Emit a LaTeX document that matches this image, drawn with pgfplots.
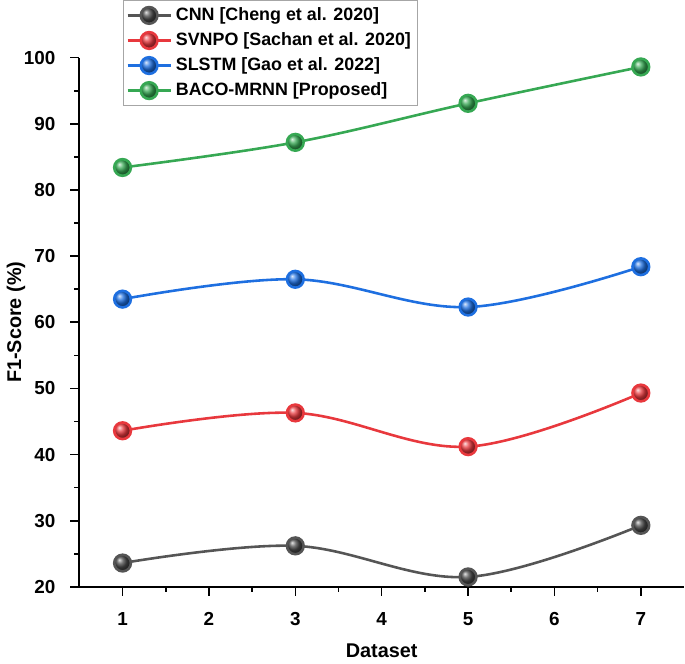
\documentclass[border=0pt]{standalone}
\usepackage{pgfplots}
\pgfplotsset{compat=1.18}
\usepackage{fontspec}
\setmainfont{Liberation Sans}
\definecolor{cnn}{HTML}{555555}
\definecolor{svn}{HTML}{E8383D}
\definecolor{sls}{HTML}{1E6FE0}
\definecolor{bac}{HTML}{36A853}
\begin{document}
\begin{tikzpicture}
\begin{axis}[
  width=304.5pt, height=266.5pt, scale only axis,
  xmin=0.5, xmax=7.5, ymin=20, ymax=100,
  xtick={1,2,3,4,5,6,7}, ytick={20,30,40,50,60,70,80,90,100},
  minor x tick num=1, minor y tick num=1,
  axis x line*=bottom, axis y line*=left,
  axis line style={line width=1pt, black},
  tick align=outside,
  major tick length=4.5pt, minor tick length=2.5pt,
  every tick/.style={line width=0.8pt, black},
  /pgf/number format/assume math mode=true,
  ticklabel style={font=\bfseries\fontsize{9.5}{11}\selectfont},
  xticklabel style={yshift=-5pt},
  yticklabel style={xshift=-4pt},
  label style={font=\bfseries\fontsize{10}{12}\selectfont},
  xlabel={Dataset}, ylabel={F1-Score (\%)},
  xlabel style={at={(axis description cs:0.5,-0.12)}, anchor=center},
  ylabel style={at={(axis description cs:-0.105,0.5)}, anchor=center},
  legend style={at={(rel axis cs:0.072,1.109)}, anchor=north west,
    draw=gray!70, line width=0.5pt, font=\bfseries\fontsize{9}{11.5}\selectfont,
    inner sep=1.5pt, row sep=0.6pt, cells={anchor=west}},
  legend image code/.code={\draw[mark repeat=2,mark phase=2] plot coordinates {(0cm,0cm)(0.38cm,0cm)(0.76cm,0cm)};},
  every axis plot/.append style={line width=1.3pt, smooth, tension=0.6, mark=ball, mark size=4.2pt},
  clip=false,
]
\addplot[color=cnn, mark options={ball color=cnn!85!black}] coordinates {(1,23.6) (3,26.2) (5,21.5) (7,29.3)};
\addlegendentry{CNN [Cheng et al. 2020]}
\addplot[color=svn, mark options={ball color=svn}] coordinates {(1,43.6) (3,46.3) (5,41.2) (7,49.3)};
\addlegendentry{SVNPO [Sachan et al. 2020]}
\addplot[color=sls, mark options={ball color=sls}] coordinates {(1,63.5) (3,66.5) (5,62.3) (7,68.4)};
\addlegendentry{SLSTM [Gao et al. 2022]}
\addplot[color=bac, mark options={ball color=bac}] coordinates {(1,83.4) (3,87.2) (5,93.1) (7,98.6)};
\addlegendentry{BACO-MRNN [Proposed]}
\end{axis}
\end{tikzpicture}
\end{document}
